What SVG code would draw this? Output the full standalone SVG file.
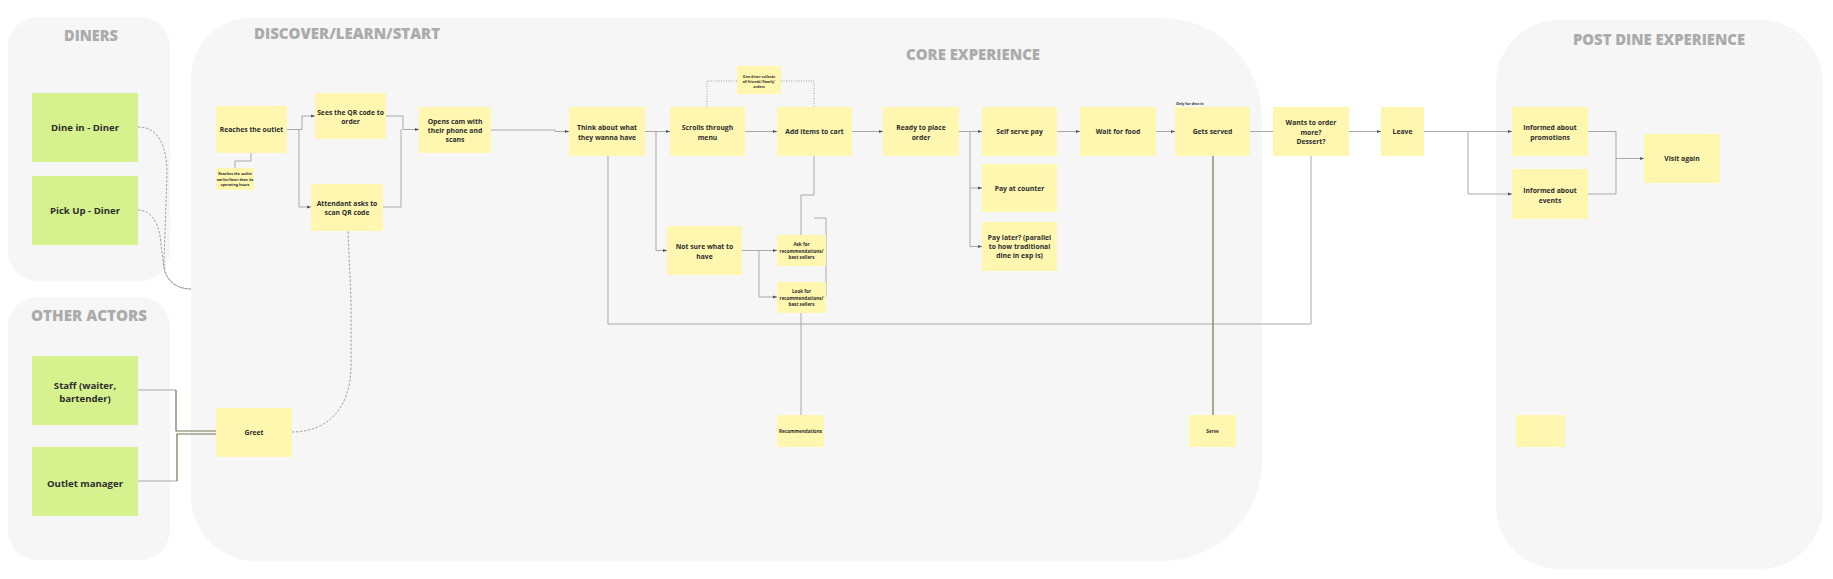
<svg xmlns="http://www.w3.org/2000/svg" width="1833" height="579" viewBox="0 0 1833 579">
<style>
.panel{fill:#f6f6f6}
.hdr{font-family:"Open Sans","Liberation Sans",sans-serif;font-weight:800;fill:#ababab;font-size:16px}
.y{fill:#fff7b0}
.g{fill:#d5f28e}
text.t{font-family:"Open Sans","Liberation Sans",sans-serif;font-weight:700;fill:#2d2d2d;text-anchor:middle;dominant-baseline:central}
.s10{font-size:9.6px}
.s7{font-size:6.8px}
.s5{font-size:4.6px}
.s4{font-size:3.6px}
.c{fill:none;stroke:#a9a9a9;stroke-width:1}
.o{fill:none;stroke:#77734f;stroke-width:1.2}
.d{fill:none;stroke:#8f8c74;stroke-width:0.8;stroke-dasharray:2.5 1.5}
.dot{fill:none;stroke:#a0a0a0;stroke-width:1;stroke-dasharray:1 1.5}
</style>
<defs>
<marker id="ah" viewBox="0 0 4 4" refX="4" refY="2" markerWidth="4" markerHeight="4" orient="auto" markerUnits="userSpaceOnUse">
<path d="M0,0.6 L4,2 L0,3.4 Z" fill="#555"/>
</marker>
</defs>
<rect width="1833" height="579" fill="#ffffff"/>

<g id="panels">
<rect class="panel" x="8" y="17" width="162" height="264" rx="30"/>
<rect class="panel" x="8" y="297" width="162" height="263" rx="30"/>
<path class="panel" d="M251 18 H1162 A100 100 0 0 1 1262 118 V461 A100 100 0 0 1 1162 561 H256 A65 65 0 0 1 191 496 V78 A60 60 0 0 1 251 18 Z"/>
<rect class="panel" x="1496" y="20" width="327" height="549" rx="63"/>
<text class="hdr" x="64" y="41" textLength="54" lengthAdjust="spacingAndGlyphs">DINERS</text>
<text class="hdr" x="31" y="321" textLength="116" lengthAdjust="spacingAndGlyphs">OTHER ACTORS</text>
<text class="hdr" x="254" y="39" textLength="186" lengthAdjust="spacingAndGlyphs">DISCOVER/LEARN/START</text>
<text class="hdr" x="906" y="60" textLength="134" lengthAdjust="spacingAndGlyphs">CORE EXPERIENCE</text>
<text class="hdr" x="1573" y="45" textLength="172" lengthAdjust="spacingAndGlyphs">POST DINE EXPERIENCE</text>
</g>

<g id="connectors">
<path class="c" d="M287 129.5 H302 V116 H315" marker-end="url(#ah)"/>
<path class="c" d="M299 129.5 V207 H311" marker-end="url(#ah)"/>
<path class="c" d="M251 153 V161 H235 V168"/>
<path class="c" d="M386 116 H403 V129.5 H419" marker-end="url(#ah)"/>
<path class="c" d="M383 207 H401 V129.5"/>
<path class="c" d="M491 130 H555 V131.5 H569" marker-end="url(#ah)"/>
<path class="c" d="M645 131.5 H670" marker-end="url(#ah)"/>
<path class="c" d="M656 131.5 V250.5 H667" marker-end="url(#ah)"/>
<path class="c" d="M745 131.5 H777" marker-end="url(#ah)"/>
<path class="dot" d="M707 107 V81 H814 V107"/>
<path class="c" d="M742 250.5 H777" marker-end="url(#ah)"/>
<path class="c" d="M759 250.5 V297 H777" marker-end="url(#ah)"/>
<path class="c" d="M801 235 V195 H814 V156"/>
<path class="c" d="M826 297 V218 H814"/>
<path class="c" d="M801 313 V415"/>
<path class="c" d="M852 131.5 H883" marker-end="url(#ah)"/>
<path class="c" d="M959 131.5 H982" marker-end="url(#ah)"/>
<path class="c" d="M970 131.5 V188 H982" marker-end="url(#ah)"/>
<path class="c" d="M970 188 V246.5 H982" marker-end="url(#ah)"/>
<path class="c" d="M1057 131.5 H1080" marker-end="url(#ah)"/>
<path class="c" d="M1156 131.5 H1175" marker-end="url(#ah)"/>
<path class="c" d="M1250 131.5 H1273"/>
<path class="c" d="M1349 131.5 H1381" marker-end="url(#ah)"/>
<path class="c" d="M1424 131.5 H1512" marker-end="url(#ah)"/>
<path class="c" d="M1468 131.5 V194 H1512" marker-end="url(#ah)"/>
<path class="c" d="M1588 131.5 H1616 V158.5 H1644" marker-end="url(#ah)"/>
<path class="c" d="M1588 194 H1616 V158.5"/>
<path class="c" d="M608 156 V324 H1311 V156"/>
<path class="o" d="M1213 156 V415"/>
<path class="c" d="M138 390 H176"/>
<path class="c" d="M138 481 H177"/>
<path class="o" d="M176 390 V431 H216"/>
<path class="o" d="M177 481 V434 H216"/>
<path class="d" d="M292 432 C326 432 351 410 351 365 V300 L348 231"/>
<path class="d" d="M138 127 C158 127 167 145 167 175 L164 262 C164 280 176 289 191 289"/>
<path class="d" d="M138 210 C152 210 160 225 161 245 L164 268 C166 282 178 289 191 289"/>
</g>

<g id="n-dinein"><rect class="g" x="32" y="93" width="106" height="69"/><text class="t s10" x="85" y="127">Dine in - Diner</text></g>
<g id="n-pickup"><rect class="g" x="32" y="176" width="106" height="69"/><text class="t s10" x="85" y="210">Pick Up - Diner</text></g>
<g id="n-staff"><rect class="g" x="32" y="356" width="106" height="69"/><text class="t s10" x="85"><tspan x="85" y="385">Staff (waiter,</tspan><tspan x="85" y="397.5">bartender)</tspan></text></g>
<g id="n-manager"><rect class="g" x="32" y="447" width="106" height="69"/><text class="t s10" x="85" y="483">Outlet manager</text></g>

<g id="n-greet"><rect class="y" x="216" y="408" width="76" height="49"/><text class="t s7" x="254" y="432.5">Greet</text></g>
<g id="n-reaches"><rect class="y" x="216" y="106" width="71" height="47"/><text class="t s7" x="251.5" y="129.5">Reaches the outlet</text></g>
<g id="n-note-hours"><rect class="y" x="216" y="168" width="38" height="22"/><text class="t s4" x="235"><tspan x="235" y="173.3">Reaches the outlet</tspan><tspan x="235" y="178.6">earlier/later than its</tspan><tspan x="235" y="183.8">operating hours</tspan></text></g>
<g id="n-sees"><rect class="y" x="315" y="93" width="71" height="46"/><text class="t s7" x="350.5"><tspan x="350.5" y="112">Sees the QR code to</tspan><tspan x="350.5" y="120.5">order</tspan></text></g>
<g id="n-attendant"><rect class="y" x="311" y="184" width="72" height="47"/><text class="t s7" x="347"><tspan x="347" y="203">Attendant asks to</tspan><tspan x="347" y="212">scan QR code</tspan></text></g>
<g id="n-opens"><rect class="y" x="419" y="107" width="72" height="46"/><text class="t s7" x="455"><tspan x="455" y="121">Opens cam with</tspan><tspan x="455" y="130">their phone and</tspan><tspan x="455" y="139">scans</tspan></text></g>
<g id="n-think"><rect class="y" x="569" y="107" width="76" height="49"/><text class="t s7" x="607"><tspan x="607" y="127">Think about what</tspan><tspan x="607" y="137">they wanna have</tspan></text></g>
<g id="n-scrolls"><rect class="y" x="670" y="107" width="75" height="49"/><text class="t s7" x="707.5"><tspan x="707.5" y="127">Scrolls through</tspan><tspan x="707.5" y="137">menu</tspan></text></g>
<g id="n-note-collect"><rect class="y" x="737" y="66" width="44" height="28"/><text class="t s4" x="759"><tspan x="759" y="76">One diner collects</tspan><tspan x="759" y="81">all friends'/family'</tspan><tspan x="759" y="86">orders</tspan></text></g>
<g id="n-add"><rect class="y" x="777" y="107" width="75" height="49"/><text class="t s7" x="814.5" y="131.5">Add items to cart</text></g>
<g id="n-notsure"><rect class="y" x="667" y="226" width="75" height="49"/><text class="t s7" x="704.5"><tspan x="704.5" y="246">Not sure what to</tspan><tspan x="704.5" y="256">have</tspan></text></g>
<g id="n-ask"><rect class="y" x="777" y="235" width="49" height="31"/><text class="t s5" x="801.5"><tspan x="801.5" y="244">Ask for</tspan><tspan x="801.5" y="250.5">recommendations/</tspan><tspan x="801.5" y="257">best sellers</tspan></text></g>
<g id="n-look"><rect class="y" x="777" y="282" width="49" height="31"/><text class="t s5" x="801.5"><tspan x="801.5" y="291">Look for</tspan><tspan x="801.5" y="297.5">recommendations/</tspan><tspan x="801.5" y="304">best sellers</tspan></text></g>
<g id="n-recs"><rect class="y" x="777" y="415" width="47" height="32"/><text class="t s5" x="800.5" y="431">Recommendations</text></g>
<g id="n-ready"><rect class="y" x="883" y="107" width="76" height="49"/><text class="t s7" x="921"><tspan x="921" y="127">Ready to place</tspan><tspan x="921" y="137">order</tspan></text></g>
<g id="n-selfpay"><rect class="y" x="982" y="107" width="75" height="49"/><text class="t s7" x="1019.5" y="131.5">Self serve pay</text></g>
<g id="n-counter"><rect class="y" x="982" y="164" width="75" height="48"/><text class="t s7" x="1019.5" y="188">Pay at counter</text></g>
<g id="n-later"><rect class="y" x="982" y="222" width="75" height="49"/><text class="t s7" x="1019.5"><tspan x="1019.5" y="237">Pay later? (parallel</tspan><tspan x="1019.5" y="246">to how traditional</tspan><tspan x="1019.5" y="255">dine in exp is)</tspan></text></g>
<g id="n-wait"><rect class="y" x="1080" y="107" width="76" height="49"/><text class="t s7" x="1118" y="131.5">Wait for food</text></g>
<g id="n-served"><rect class="y" x="1175" y="107" width="75" height="49"/><text class="t s7" x="1212.5" y="131.5">Gets served</text><text class="t s4" x="1176" y="103" style="text-anchor:start">Only for dine in</text></g>
<g id="n-serve"><rect class="y" x="1189" y="415" width="47" height="32"/><text class="t s5" x="1212.5" y="431">Serve</text></g>
<g id="n-more"><rect class="y" x="1273" y="107" width="76" height="49"/><text class="t s7" x="1311"><tspan x="1311" y="122">Wants to order</tspan><tspan x="1311" y="131.5">more?</tspan><tspan x="1311" y="141">Dessert?</tspan></text></g>
<g id="n-leave"><rect class="y" x="1381" y="107" width="43" height="49"/><text class="t s7" x="1402.5" y="131.5">Leave</text></g>
<g id="n-promos"><rect class="y" x="1512" y="107" width="76" height="49"/><text class="t s7" x="1550"><tspan x="1550" y="127">Informed about</tspan><tspan x="1550" y="137">promotions</tspan></text></g>
<g id="n-events"><rect class="y" x="1512" y="169" width="76" height="50"/><text class="t s7" x="1550"><tspan x="1550" y="190">Informed about</tspan><tspan x="1550" y="200">events</tspan></text></g>
<g id="n-visit"><rect class="y" x="1644" y="134" width="76" height="49"/><text class="t s7" x="1682" y="158.5">Visit again</text></g>
<g id="n-empty"><rect class="y" x="1516" y="415" width="49" height="32"/></g>
</svg>
